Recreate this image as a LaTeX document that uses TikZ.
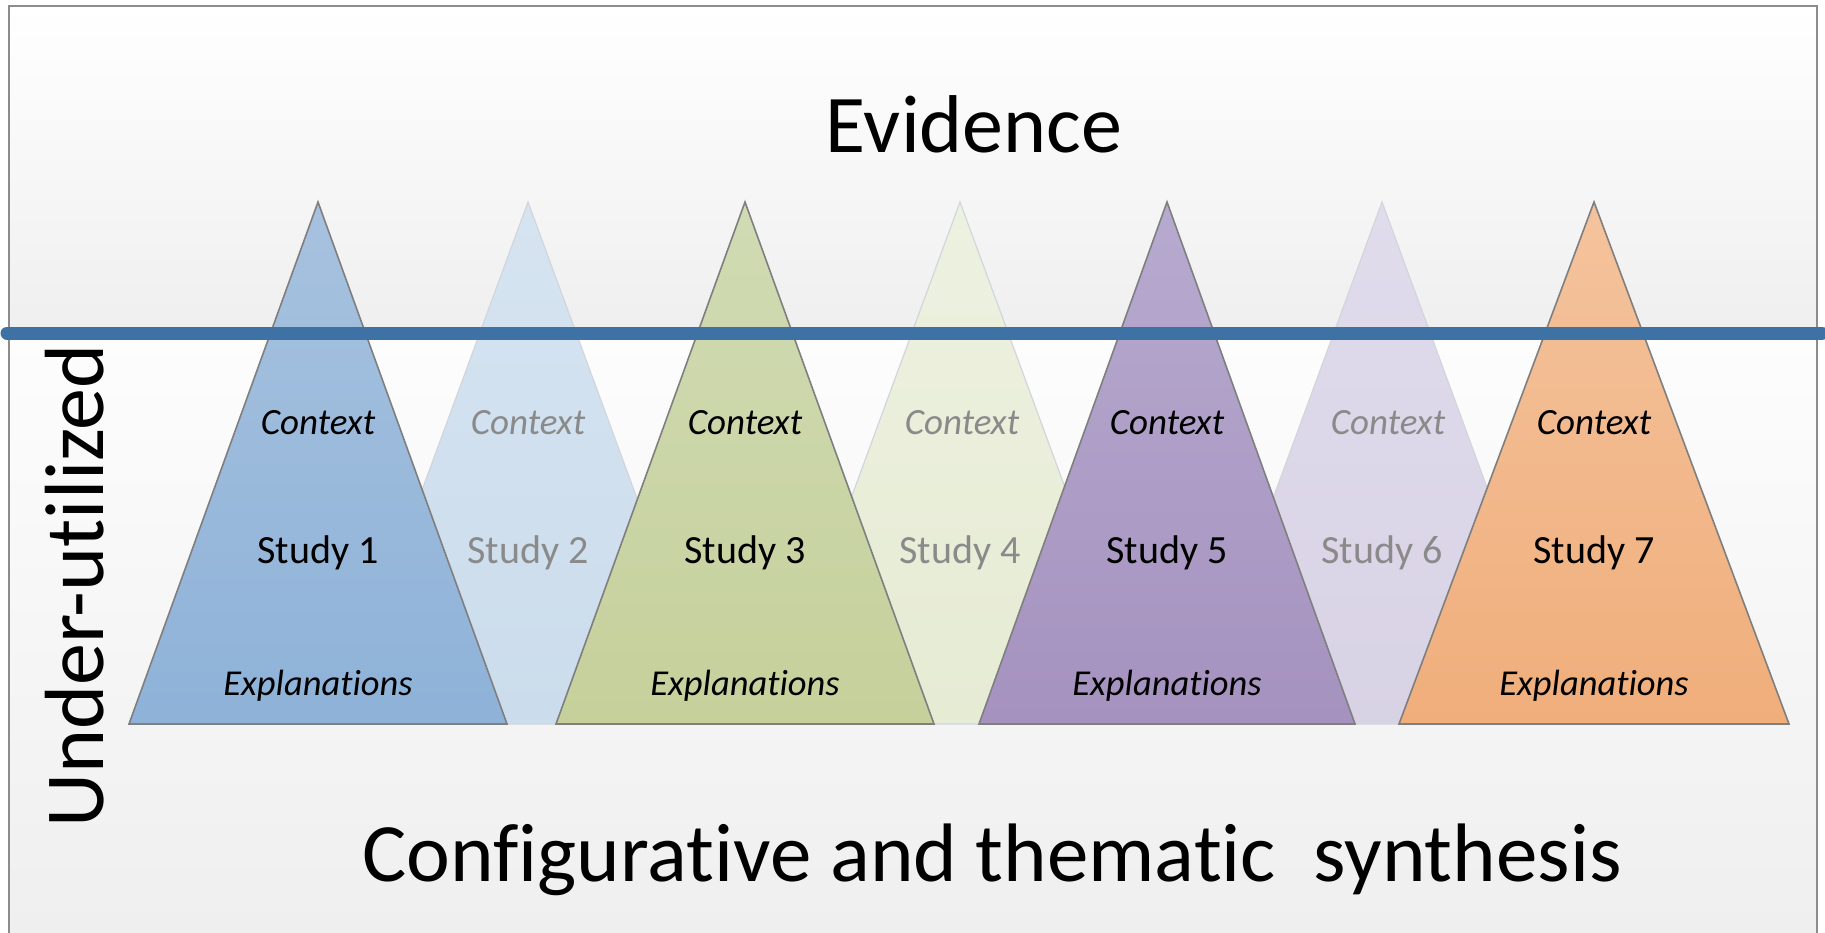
\documentclass[tikz,border=0pt]{standalone}
\usepackage{fontspec}
\setmainfont{Carlito}[Ligatures={NoCommon,NoRare,NoContextual},Contextuals={NoAlternate}]
\newcommand{\nolig}{\kern0pt\relax}
\definecolor{bgA}{HTML}{EFEFEF}
\definecolor{bgB}{HTML}{FDFDFD}
\definecolor{framegray}{HTML}{8C8C8C}
\definecolor{edgegray}{HTML}{7F7F7F}
\definecolor{ghostedge}{HTML}{D2D6DC}
\definecolor{ghosttxt}{HTML}{8A8A8A}
\definecolor{blueline}{HTML}{3E72A5}
\definecolor{bluetop}{HTML}{A7C2DF}
\definecolor{bluebot}{HTML}{8EB2D8}
\definecolor{lbluetop}{HTML}{D6E4F1}
\definecolor{lbluebot}{HTML}{CBDCEC}
\definecolor{greentop}{HTML}{D1DBB4}
\definecolor{greenbot}{HTML}{C5D09B}
\definecolor{lgreentop}{HTML}{EDF1E0}
\definecolor{lgreenbot}{HTML}{E6EBD4}
\definecolor{purptop}{HTML}{B7AACF}
\definecolor{purpbot}{HTML}{A592BF}
\definecolor{lpurptop}{HTML}{E0DCEC}
\definecolor{lpurpbot}{HTML}{D8D2E5}
\definecolor{orangetop}{HTML}{F4C39D}
\definecolor{orangebot}{HTML}{F0AE7B}
\begin{document}
\begin{tikzpicture}[x=1pt,y=-1pt,
  tri/.style={draw=edgegray, line width=1.6pt, line join=miter},
  ghost/.style={draw=ghostedge, line width=1.2pt, line join=miter},
  ctx/.style={font=\fontsize{37}{42}\selectfont\itshape, anchor=base, inner sep=0pt},
  stud/.style={font=\fontsize{40}{46}\selectfont, anchor=base, inner sep=0pt},
  expl/.style={font=\fontsize{36.5}{42}\selectfont\itshape, anchor=base, inner sep=0pt},
  faded/.style={text=ghosttxt},
  bigtext/.style={anchor=base, inner sep=0pt}]
\useasboundingbox (0,0) rectangle (1825,932);
\fill[white] (0,0) rectangle (1825,932);
% background panels
\shade[top color=white, bottom color=bgA] (9,6) rectangle (1817,333);
\shade[top color=bgB, bottom color=bgA] (9,333) rectangle (1817,932);
\draw[framegray, line width=1.2pt] (9,945) -- (9,6) -- (1817,6) -- (1817,945);

% faint triangles (behind)
\shadedraw[ghost, top color=lbluetop, bottom color=lbluebot] (528,202) -- (720,724) -- (336,724) -- cycle;
\shadedraw[ghost, top color=lgreentop, bottom color=lgreenbot] (960,202) -- (1152,724) -- (768,724) -- cycle;
\shadedraw[ghost, top color=lpurptop, bottom color=lpurpbot] (1382,202) -- (1574,724) -- (1190,724) -- cycle;

% main triangles
\shadedraw[tri, top color=bluetop, bottom color=bluebot] (318,202) -- (507,724) -- (129,724) -- cycle;
\shadedraw[tri, top color=greentop, bottom color=greenbot] (745,202) -- (934,724) -- (556,724) -- cycle;
\shadedraw[tri, top color=purptop, bottom color=purpbot] (1167,202) -- (1355,724) -- (979,724) -- cycle;
\shadedraw[tri, top color=orangetop, bottom color=orangebot] (1594,202) -- (1789,724) -- (1399,724) -- cycle;

% labels
\node[ctx] (c1) at (318,434) {Context};
\node[stud] (s1) at (318,563) {Study 1};
\node[expl] (e1) at (318,695) {Explanat\nolig ions};
\node[ctx, faded] (c2) at (528,434) {Context};
\node[stud, faded] (s2) at (528,563) {Study 2};
\node[ctx] (c3) at (745,434) {Context};
\node[stud] (s3) at (745,563) {Study 3};
\node[expl] (e3) at (745,695) {Explanat\nolig ions};
\node[ctx, faded] (c4) at (962,434) {Context};
\node[stud, faded] (s4) at (960,563) {Study 4};
\node[ctx] (c5) at (1167,434) {Context};
\node[stud] (s5) at (1167,563) {Study 5};
\node[expl] (e5) at (1167,695) {Explanat\nolig ions};
\node[ctx, faded] (c6) at (1388,434) {Context};
\node[stud, faded] (s6) at (1382,563) {Study 6};
\node[ctx] (c7) at (1594,434) {Context};
\node[stud] (s7) at (1594,563) {Study 7};
\node[expl] (e7) at (1594,695) {Explanat\nolig ions};

% blue threshold line
\coordinate (lineL) at (7,333);
\coordinate (lineR) at (1822,333);
\draw[blueline, line width=13pt, line cap=round] (lineL) -- (lineR);

% titles
\node[bigtext, font=\fontsize{82}{90}\selectfont] (evidence) at (974,152) {Evidence};
\node[bigtext, font=\fontsize{83}{95}\selectfont] (synth) at (992,881) {Conf\nolig igurat\nolig ive and themat\nolig ic\ \ synthesis};
\node[bigtext, font=\fontsize{84}{90}\selectfont, rotate=90] (under) at (103,586) {Under-ut\nolig il\nolig ized};
\end{tikzpicture}
\end{document}
